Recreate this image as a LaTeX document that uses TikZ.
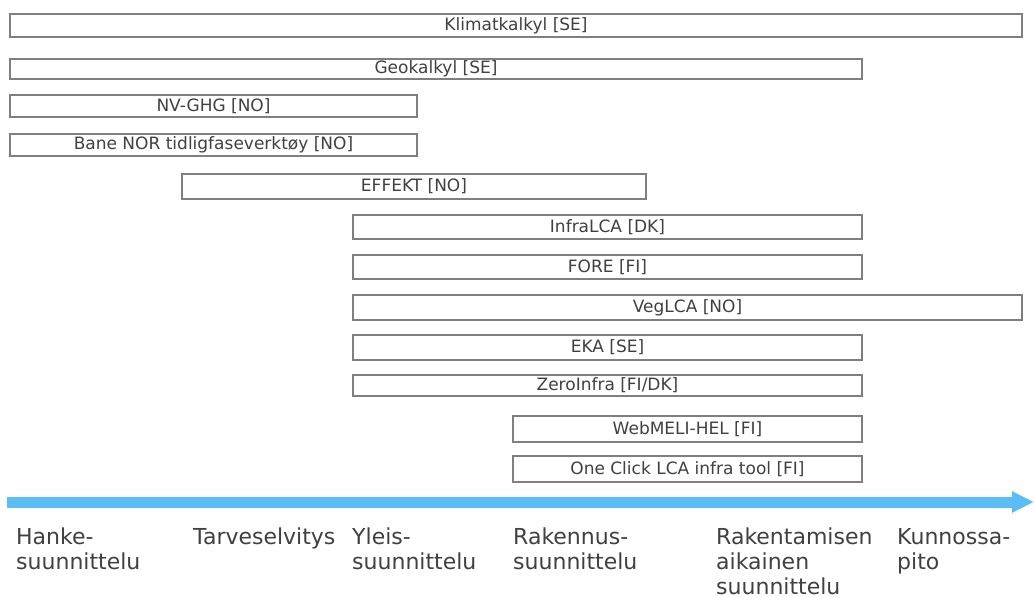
\documentclass[tikz,border=0pt]{standalone}
\usepackage{fontspec}
\setmainfont{DejaVu Sans}
\usetikzlibrary{arrows.meta}
\definecolor{cLine} {RGB}{127,127,127}
\definecolor{cText} {RGB}{ 64, 64, 64}
\definecolor{cArrow}{RGB}{ 91,189,245}
\tikzset{
  tool/.style     = {draw=cLine, line width=1.1pt, anchor=north west,
                     inner sep=0pt, outer sep=0pt, text=cText,
                     font=\fontsize{17}{20}\selectfont},
  phase/.style    = {anchor=north west, inner sep=0pt, align=left,
                     text=cText, font=\fontsize{22}{25}\selectfont},
  timeline/.style = {cArrow, line width=11pt,
                     -{Triangle[length=22pt, width=20pt]}},
}
\begin{document}
\begin{tikzpicture}[x=1pt, y=-1pt]
  \useasboundingbox (0,0) rectangle (1034,597);

  % ---- tools, one bar per row --------------------------------------
  \node[tool, minimum width=1012, minimum height=23] (kk)   at (10,14)  {Klimatkalkyl [SE]};
  \node[tool, minimum width=852,  minimum height=20] (geo)  at (10,59)  {Geokalkyl [SE]};
  \node[tool, minimum width=407,  minimum height=22] (nv)   at (10,95)  {NV-GHG [NO]};
  \node[tool, minimum width=407,  minimum height=22] (bane) at (10,134) {Bane NOR tidligfaseverktøy [NO]};
  \node[tool, minimum width=464,  minimum height=25] (eff)  at (182,174) {EFFEKT [NO]};
  \node[tool, minimum width=509,  minimum height=24] (infra) at (353,215) {InfraLCA [DK]};
  \node[tool, minimum width=509,  minimum height=24] (fore) at (353,255) {FORE [FI]};
  \node[tool, minimum width=669,  minimum height=25] (veg)  at (353,295) {VegLCA [NO]};
  \node[tool, minimum width=509,  minimum height=25] (eka)  at (353,335) {EKA [SE]};
  \node[tool, minimum width=509,  minimum height=21] (zero) at (353,375) {ZeroInfra [FI/DK]};
  \node[tool, minimum width=349,  minimum height=26] (web)  at (513,416) {WebMELI-HEL [FI]};
  \node[tool, minimum width=349,  minimum height=26] (occ)  at (513,456) {One Click LCA infra tool [FI]};

  % ---- time line -----------------------------------------------------
  \coordinate (t0) at (7,502);
  \coordinate (t1) at (1034,502);
  \draw[timeline] (t0) -- (t1);

  % ---- phases --------------------------------------------------------
  \node[phase] (p1) at (16,528)  {Hanke-\\suunnittelu};
  \node[phase] (p2) at (193,528) {Tarveselvitys};
  \node[phase] (p3) at (352,528) {Yleis-\\suunnittelu};
  \node[phase] (p4) at (513,528) {Rakennus-\\suunnittelu};
  \node[phase] (p5) at (716,528) {Rakentamisen\\aikainen\\suunnittelu};
  \node[phase] (p6) at (897,528) {Kunnossa-\\pito};
\end{tikzpicture}
\end{document}
